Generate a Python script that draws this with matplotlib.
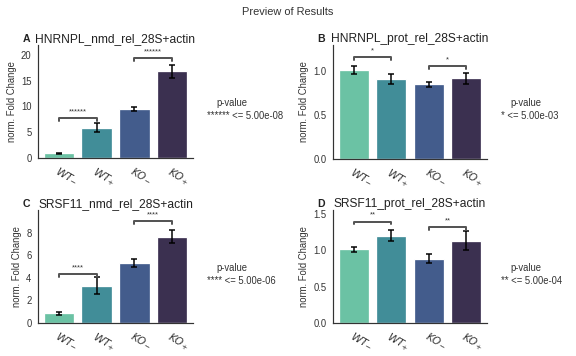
import matplotlib
matplotlib.use("Agg")
import matplotlib.pyplot as plt
import numpy as np
import seaborn as sns

sns.set_style("white")
plt.rcParams["font.family"] = ["Liberation Sans", "DejaVu Sans"]

groups = [r"$WT_{-}$", r"$WT_{+}$", r"$KO_{-}$", r"$KO_{+}$"]
colors = ["#6bc2a4", "#418d98", "#435c8c", "#3b3050"]

panels = ["A", "B", "C", "D"]
titles = ["HNRNPL_nmd_rel_28S+actin", "HNRNPL_prot_rel_28S+actin",
          "SRSF11_nmd_rel_28S+actin", "SRSF11_prot_rel_28S+actin"]
means = [[0.9, 5.9, 9.5, 16.8],
         [1.02, 0.91, 0.85, 0.92],
         [0.85, 3.3, 5.3, 7.65],
         [1.01, 1.2, 0.88, 1.13]]
errs = [[0.12, 0.9, 0.45, 1.2],
        [0.045, 0.06, 0.03, 0.06],
        [0.1, 0.75, 0.35, 0.55],
        [0.03, 0.07, 0.06, 0.13]]
ylims = [21.9, 1.30, 10.0, 1.55]
yticks = [[0, 5, 10, 15, 20], [0.0, 0.5, 1.0], [0, 2, 4, 6, 8], [0.0, 0.5, 1.0, 1.5]]
# bracket heights (WT pair, KO pair) and star labels
brackets = [(7.8, 19.4), (1.16, 1.06), (4.35, 9.0), (1.39, 1.32)]
stars = ["******", "*", "****", "**"]
pthresh = ["5.00e-08", "5.00e-03", "5.00e-06", "5.00e-04"]

W, H = 576, 356
fig = plt.figure(figsize=(W / 72, H / 72), dpi=72)
fig.suptitle("Preview of Results", fontsize=11, color="#333333", y=0.98)

boxes = [(38, 45, 193, 158), (333, 45, 487, 159),
         (38, 210, 193, 323), (333, 210, 487, 323)]

for i in range(4):
    x0, y0, x1, y1 = boxes[i]
    ax = fig.add_axes([x0 / W, 1 - y1 / H, (x1 - x0) / W, (y1 - y0) / H])
    x = np.arange(4)
    ax.bar(x, means[i], width=0.8, color=colors, edgecolor="white", linewidth=1.3)
    ax.errorbar(x, means[i], yerr=errs[i], fmt="none", ecolor="black",
                elinewidth=1.5, capsize=3, capthick=1.5)
    ax.set_ylim(0, ylims[i])
    ax.set_xlim(-0.55, 3.55)
    ax.set_yticks(yticks[i])
    if i in (1, 3):
        ax.set_yticklabels([f"{v:.1f}" for v in yticks[i]])
    ax.tick_params(axis="y", labelsize=9.5, colors="#333333", pad=3)
    ax.set_xticks(x)
    ax.set_xticklabels(groups, rotation=-30, fontsize=10.5, color="#333333",
                       ha="left", rotation_mode="anchor")
    ax.tick_params(axis="x", pad=4)
    ax.set_ylabel("norm. Fold Change", fontsize=9.5, color="#333333", labelpad=4)
    sns.despine(ax=ax)
    for s in ("left", "bottom"):
        ax.spines[s].set_color("#333333")
        ax.spines[s].set_linewidth(1.2)
    ax.set_title(titles[i], fontsize=12, color="#222222", pad=3)
    ax.text(-0.1, 1.0 + 3 / (y1 - y0), panels[i], transform=ax.transAxes,
            fontsize=10.5, fontweight="bold", color="#222222", va="baseline")

    # significance brackets
    tick = ylims[i] * 0.025
    for (a, b), h in zip([(0, 1), (2, 3)], brackets[i]):
        ax.plot([a, a, b, b], [h - tick, h, h, h - tick], color="#555555", lw=2,
                clip_on=False)
        ax.text((a + b) / 2, h + ylims[i] * 0.025, stars[i], ha="center",
                va="bottom", fontsize=7.5, color="#333333")

    # p-value legend
    ax.text(1.15, 0.49, "p-value", transform=ax.transAxes, fontsize=9.5,
            color="#333333", ha="left", va="center")
    ax.text(1.09, 0.375, f"{stars[i]} <= {pthresh[i]}", transform=ax.transAxes,
            fontsize=9.5, color="#333333", ha="left", va="center")

fig.savefig("out.png", dpi=72)
